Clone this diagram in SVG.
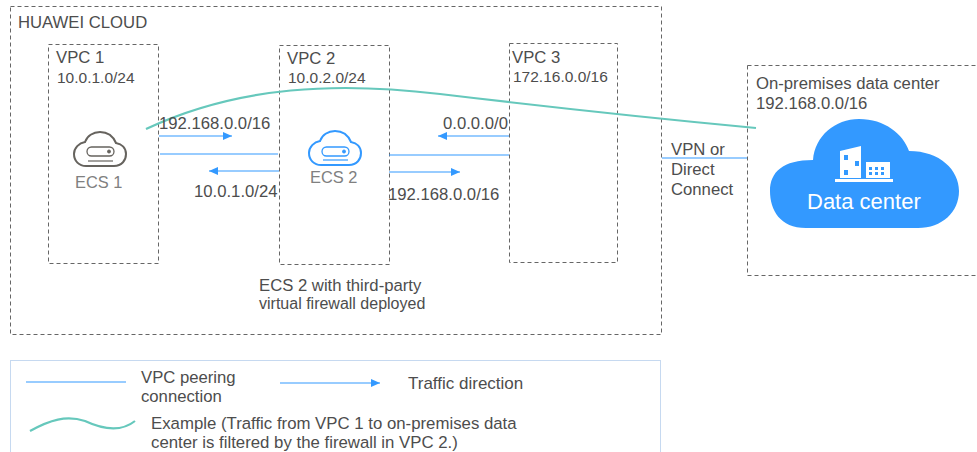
<svg xmlns="http://www.w3.org/2000/svg" width="977" height="452" viewBox="0 0 977 452">
<style>
text{font-family:"Liberation Sans",Arial,sans-serif;font-size:16.7px;fill:#4d4d4d}
.s{font-size:15.500px}
.t{font-size:16px}
.d{fill:none;stroke:#666;stroke-width:1;stroke-dasharray:4 3}
.c{fill:none;stroke:#3399ff;stroke-width:1.2}
.g{fill:none;stroke:#66c8bc;stroke-width:2.2}
.e{font-size:16.400px;fill:#808080}
</style>
<defs>
<marker id="a" markerUnits="userSpaceOnUse" markerWidth="10" markerHeight="10" refX="9" refY="5" orient="auto"><path d="M0 1L9 5L0 9Z" fill="#3399ff"/></marker>
</defs>
<g id="huawei-cloud"><rect class="d" x="10.500" y="6.500" width="651" height="328"/><text x="18" y="28">HUAWEI CLOUD</text></g>
<g id="vpc1"><rect class="d" x="48.500" y="44.500" width="110" height="219"/><text x="56" y="63">VPC 1</text><text x="57" y="83" class="s">10.0.1.0/24</text></g>
<g id="ecs1" stroke="#66635e"><path fill="none" stroke-width="2" d="M86 166H114C122 166 126 160 126 154C126 148 122 144 116 143C113 136 107 132 100 132C93 132 87 136 85 142C79 143 74 148 74 154C74 161 79 166 86 166Z"/><rect x="87" y="147" width="27" height="9" rx="4.500" fill="none" stroke-width="1.300"/><circle cx="109" cy="151.500" r="1.500" fill="#66635e"/><path d="M88 161H113" stroke-width="1.200"/><text x="75" y="188" class="e" stroke="none">ECS 1</text></g>
<g id="vpc2"><rect class="d" x="279.500" y="45.500" width="110" height="219"/><text x="287" y="64">VPC 2</text><text x="288" y="83" class="s">10.0.2.0/24</text></g>
<g id="ecs2" stroke="#3399ff"><path fill="none" stroke-width="2" d="M321 165H349C357 165 361 159 361 153C361 147 357 143 351 142C348 135 342 131 335 131C328 131 322 135 320 141C314 142 309 147 309 153C309 160 314 165 321 165Z"/><rect x="322" y="147" width="27" height="9" rx="4.500" fill="none" stroke-width="1.300"/><circle cx="344" cy="151.500" r="1.500" fill="#3399ff"/><path d="M323 160H348" stroke-width="1.200"/><text x="310" y="183" class="e" stroke="none">ECS 2</text></g>
<g id="vpc3"><rect class="d" x="509.500" y="43.500" width="108" height="219"/><text x="512" y="63">VPC 3</text><text x="513" y="82" class="s">172.16.0.0/16</text></g>
<g id="dc"><rect class="d" x="747.500" y="65.500" width="240" height="210"/><text x="756" y="89">On-premises data center</text><text x="756" y="109">192.168.0.0/16</text>
<path d="M806 228C780 228 770 210 770 191C770 172 783 160 813 160C815 136 835 119 859 119C885 119 903 134 909 151C940 151 959 170 959 191C959 212 942 228 918 228Z" fill="#3399ff"/>
<path d="M840 151L861 146V178H840Z M866 162H890V178H866Z" fill="#fff"/><rect x="835" y="179" width="58" height="3" fill="#fff"/>
<path d="M844 155h4v5h-4zM855 161h4v5h-4zM844 170h4v5h-4zM869 167h3v3h-3zM875 167h3v3h-3zM881 167h3v3h-3zM869 172h3v3h-3zM875 172h3v3h-3zM881 172h3v3h-3z" fill="#3399ff"/>
<text x="807" y="209" style="fill:#fff;font-size:22px">Data center</text></g>
<g id="connectors">
<path class="g" d="M146 129C240 85 340 82 440 94C540 106 650 118 756 128"/>
<path class="c" d="M159 136H232" marker-end="url(#a)"/><path class="c" d="M160 154H278"/><path class="c" d="M279 171H209" marker-end="url(#a)"/>
<path class="c" d="M509 136H438" marker-end="url(#a)"/><path class="c" d="M389 155H509"/><path class="c" d="M389 172H460" marker-end="url(#a)"/>
<path class="c" d="M662 158H747"/>
</g>
<text x="159" y="129">192.168.0.0/16</text><text x="194" y="197">10.0.1.0/24</text><text x="443" y="129">0.0.0.0/0</text><text x="388" y="200">192.168.0.0/16</text>
<text x="671" y="155">VPN or</text><text x="671" y="175">Direct</text><text x="671" y="195">Connect</text>
<text x="259" y="291">ECS 2 with third-party</text><text x="259" y="309" class="t">virtual firewall deployed</text>
<g id="legend"><rect x="10.500" y="360.500" width="650" height="95" fill="none" stroke="#c6d9f0" stroke-width="1"/>
<path class="c" d="M26 382H126"/><path class="c" d="M280 383H380" marker-end="url(#a)"/>
<path class="g" d="M30 431C50 420 66 415 85 421C100 428 120 433 135 421"/>
<text x="141" y="383">VPC peering</text><text x="141" y="402">connection</text><text x="408" y="389" style="font-size:17px">Traffic direction</text>
<text x="151" y="429" style="font-size:16.800px">Example (Traffic from VPC 1 to on-premises data</text><text x="151" y="448" style="font-size:16.800px">center is filtered by the firewall in VPC 2.)</text></g>
</svg>
